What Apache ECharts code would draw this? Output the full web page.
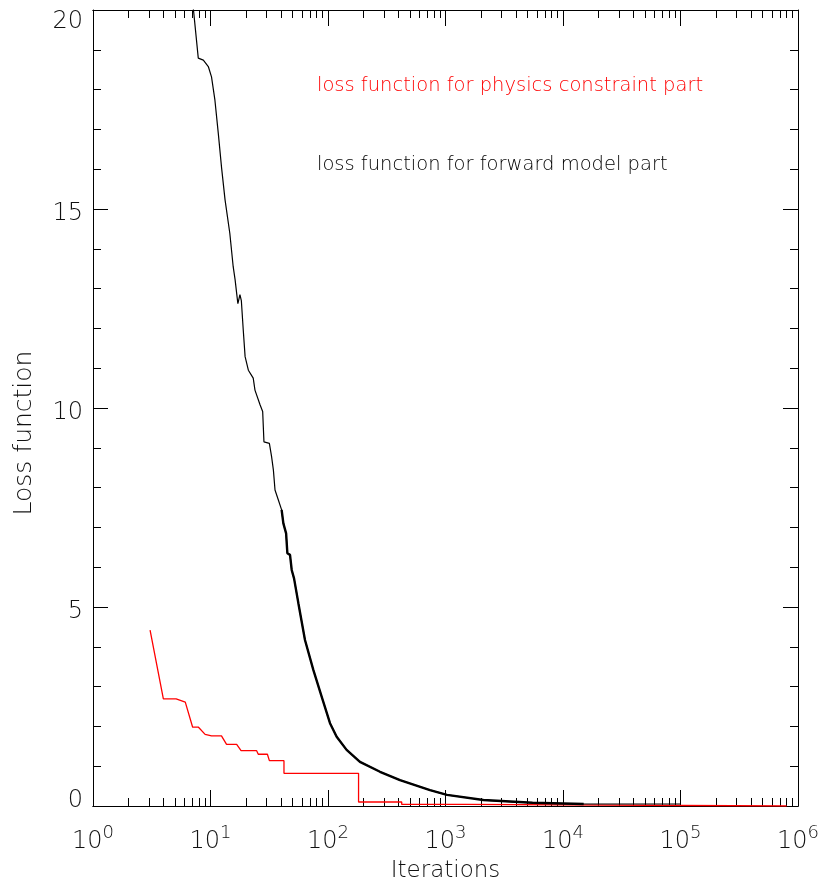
<!DOCTYPE html>
<html>
<head>
<meta charset="utf-8">
<script src="https://cdn.jsdelivr.net/npm/echarts@6/dist/echarts.min.js"></script>
<style>
  html, body { margin: 0; padding: 0; background: #fff; }
  #chart { width: 823px; height: 882px; }
</style>
</head>
<body>
<div id="chart"></div>
<script>
// loss curves (iterations on a log axis)
var fwdIter = [7.0, 7.87, 8.69, 9.58, 10.2, 10.9, 11.65, 12.4, 13.3, 14.6, 15.6, 16.2, 16.7, 17.1, 17.8, 18.3,
  19.0, 19.7, 21.0, 23.1, 23.9, 26.4, 27.8, 28.5, 31.7, 33.1, 34.3, 35.4, 37.8, 40.3, 41.7, 44.0, 45.1, 47.5,
  49.1, 51.4, 56, 63.7, 75, 88.3, 104, 118.5, 144, 187, 277, 410, 738, 1030, 2100, 5500, 15000, 100000];
var fwdLoss = [20.3, 18.79, 18.74, 18.58, 18.32, 17.74, 16.9, 16.06, 15.23, 14.39, 13.55, 13.22, 12.88, 12.62, 12.85, 12.7,
  11.96, 11.29, 10.95, 10.75, 10.45, 10.08, 9.91, 9.15, 9.11, 8.78, 8.44, 7.94, 7.69, 7.44, 7.10, 6.85, 6.35, 6.31,
  5.93, 5.72, 5.09, 4.17, 3.42, 2.75, 2.08, 1.74, 1.41, 1.11, 0.86, 0.65, 0.40, 0.28, 0.15, 0.08, 0.05, 0.05];

var physIter = [3.06, 3.97, 5.1, 6.1, 7.05, 7.9, 9.0, 10.2, 12.4, 13.7, 16.7, 18.2, 24.7, 25.5, 30.5, 31.7,
  42.2, 42.2, 182, 182, 424, 424, 1480, 1480, 800000];
var physLoss = [4.42, 2.69, 2.69, 2.61, 1.98, 1.98, 1.80, 1.76, 1.76, 1.55, 1.55, 1.39, 1.39, 1.30, 1.30, 1.14,
  1.14, 0.82, 0.82, 0.10, 0.10, 0.04, 0.04, 0.0, 0.0];

var decades = [1, 10, 100, 1000, 10000, 100000, 1000000];
var labelPhys = 'loss function for physics constraint part';
var labelFwd = 'loss function for forward model part';

var minorTicks = [];
for (var d = 0; d < decades.length - 1; d++) {
  for (var m = 2; m <= 9; m++) minorTicks.push(m * decades[d]);
}

function pairs(xs, ys) {
  return xs.map(function (x, i) { return [x, ys[i]]; });
}
var noisyStart = fwdIter.indexOf(40.3);
var noisyEnd = fwdIter.indexOf(15000);

var font = 'DejaVu Sans';
var ink = '#111';
var thin = 200;

function xAxisOf(pos, ticks, len, labels) {
  return {
    type: 'log', logBase: 10, min: 1, max: 1000000, position: pos,
    axisLine: { show: true, lineStyle: { color: '#000', width: 1 } },
    axisTick: { show: true, inside: true, length: len, customValues: ticks, lineStyle: { color: '#000', width: 1 } },
    axisLabel: labels ? {
      show: true, customValues: decades, margin: 18,
      formatter: function (v) { return '{b|10}{s|' + Math.round(Math.log10(v)) + '}'; },
      rich: {
        b: { fontFamily: font, fontWeight: thin, fontSize: 24, color: ink, lineHeight: 30, verticalAlign: 'bottom' },
        s: { fontFamily: font, fontWeight: thin, fontSize: 18, color: ink, verticalAlign: 'top', lineHeight: 18 }
      }
    } : { show: false },
    splitLine: { show: false },
    name: labels ? 'Iterations' : '',
    nameLocation: 'middle', nameGap: 54,
    nameTextStyle: { fontFamily: font, fontWeight: thin, fontSize: 23, color: ink }
  };
}

function yAxisOf(pos, labels) {
  return {
    type: 'value', min: 0, max: 20, interval: 5, position: pos,
    axisLine: { show: true, lineStyle: { color: '#000', width: 1 } },
    axisTick: { show: true, inside: true, length: 15, lineStyle: { color: '#000', width: 1 } },
    minorTick: { show: true, splitNumber: 5, length: 8, lineStyle: { color: '#000', width: 1 } },
    axisLabel: labels ? {
      show: true, margin: 10,
      formatter: function (v) {
        if (v === 20) return '{top|20}';
        if (v === 0) return '{bot|0}';
        return '{mid|' + v + '}';
      },
      rich: {
        top: { fontFamily: font, fontWeight: thin, fontSize: 24, color: ink, padding: [24, 0, 0, 0] },
        bot: { fontFamily: font, fontWeight: thin, fontSize: 24, color: ink, padding: [0, 0, 10, 0] },
        mid: { fontFamily: font, fontWeight: thin, fontSize: 24, color: ink, padding: [9, 0, 0, 0] }
      }
    } : { show: false },
    splitLine: { show: false },
    name: labels ? 'Loss function' : '',
    nameLocation: 'middle', nameGap: 56,
    nameTextStyle: { fontFamily: font, fontWeight: thin, fontSize: 25, color: ink, padding: [0, 50, 0, 0] }
  };
}

var myChart = echarts.init(document.getElementById('chart'), null, { renderer: 'canvas' });

var option = {
  animation: false,
  backgroundColor: '#fff',
  grid: { left: 93, right: 25, top: 10, bottom: 76, containLabel: false, outerBoundsMode: 'none' },
  xAxis: [
    xAxisOf('bottom', decades, 16, true),
    xAxisOf('bottom', minorTicks, 8, false),
    xAxisOf('top', decades, 16, false),
    xAxisOf('top', minorTicks, 8, false)
  ],
  yAxis: [
    yAxisOf('left', true),
    yAxisOf('right', false)
  ],
  graphic: [
    { type: 'text', left: 317, top: 76, style: { text: labelPhys, fontFamily: font, fontWeight: thin, fontSize: 19.5, fill: '#ff0000' } },
    { type: 'text', left: 317, top: 155, style: { text: labelFwd, fontFamily: font, fontWeight: thin, fontSize: 19.5, fill: '#000' } }
  ],
  series: [
    {
      name: 'physics', type: 'line', xAxisIndex: 0, yAxisIndex: 0,
      data: pairs(physIter, physLoss), showSymbol: false, clip: true,
      lineStyle: { color: '#ff0000', width: 1.3 }, z: 3
    },
    {
      name: 'forward', type: 'line', xAxisIndex: 0, yAxisIndex: 0,
      data: pairs(fwdIter, fwdLoss), showSymbol: false, clip: true,
      lineStyle: { color: '#000', width: 1.2 }, z: 4
    },
    {
      name: 'forward noise', type: 'line', xAxisIndex: 0, yAxisIndex: 0,
      data: pairs(fwdIter.slice(noisyStart, noisyEnd + 1), fwdLoss.slice(noisyStart, noisyEnd + 1)),
      showSymbol: false, clip: true,
      lineStyle: { color: '#000', width: 2.4 }, z: 4
    }
  ]
};

myChart.setOption(option);
</script>
</body>
</html>
